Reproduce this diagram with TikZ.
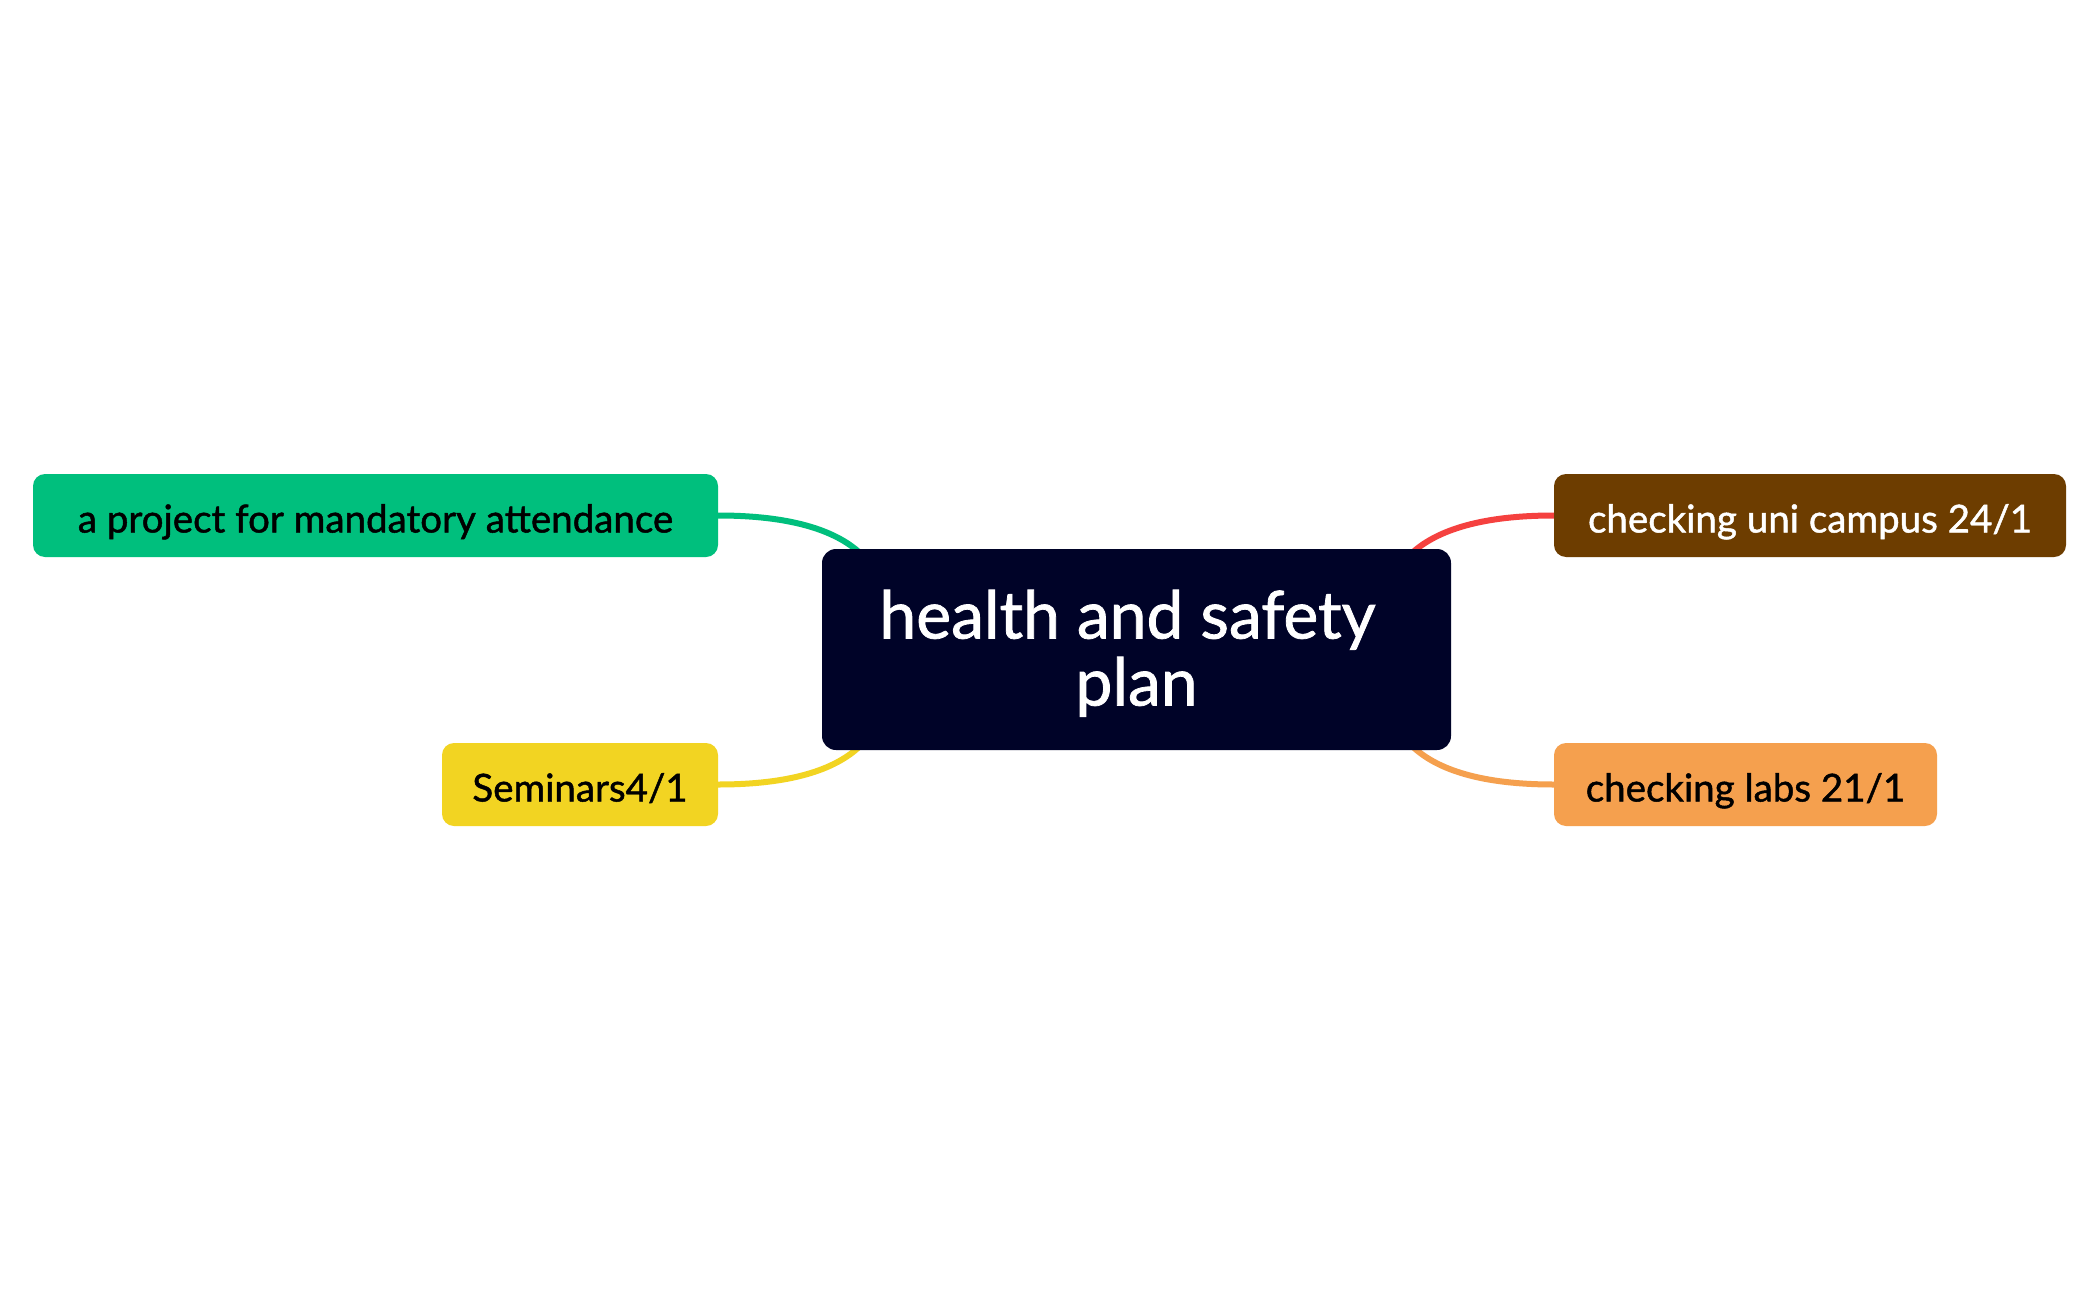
\documentclass[tikz,border=0pt]{standalone}
\usepackage{fontspec}
\setmainfont{Lato}[FakeBold=1.2]
\definecolor{cgreen}{HTML}{00BF7D}
\definecolor{cyellow}{HTML}{F2D422}
\definecolor{cbrown}{HTML}{6D3D00}
\definecolor{corange}{HTML}{F5A04E}
\definecolor{cnavy}{HTML}{000328}
\definecolor{cred}{HTML}{F5413F}
\begin{document}
\begin{tikzpicture}[x=1pt,y=-1pt,
  topic/.style={rounded corners=12pt, minimum height=83pt, inner sep=0pt, text height=40pt, text depth=6pt, font=\fontsize{38.5}{46}\selectfont},
  title/.style={text=white, anchor=base, inner sep=0pt, font=\fontsize{66}{76}\selectfont},
  link/.style={line width=6pt}]
\useasboundingbox (0,0) rectangle (2099,1300);
\fill[white] (0,0) rectangle (2099,1300);
\coordinate (cg) at (860,553);
\coordinate (cy) at (860,746);
\coordinate (cr) at (1412,553);
\coordinate (co) at (1412,746);
\node[topic, fill=cgreen, minimum width=685pt] (green) at (375.5,515.5) {a project for mandatory attendance};
\node[topic, fill=cyellow, minimum width=276pt] (yellow) at (580,784.5) {Seminars4/1};
\node[topic, fill=cbrown, minimum width=512pt, text=white] (brown) at (1810,515.5) {checking uni campus 24/1};
\node[topic, fill=corange, minimum width=383pt] (orange) at (1745.5,784.5) {checking labs 21/1};
\draw[link, cgreen] (green.east) .. controls (790,515.5) and (835,530) .. (cg);
\draw[link, cyellow] (yellow.east) .. controls (790,784.5) and (835,770) .. (cy);
\draw[link, cred] (brown.west) .. controls (1482,515.5) and (1437,530) .. (cr);
\draw[link, corange] (orange.west) .. controls (1482,784.5) and (1437,770) .. (co);
\node[fill=cnavy, rounded corners=14pt, minimum width=629pt, minimum height=201pt, inner sep=0pt] (center) at (1136.5,649.5) {};
\node[title] (title1) at (1127.5,638.5) {health and safety};
\node[title] (title2) at (1136.5,705.5) {plan};
\end{tikzpicture}
\end{document}
